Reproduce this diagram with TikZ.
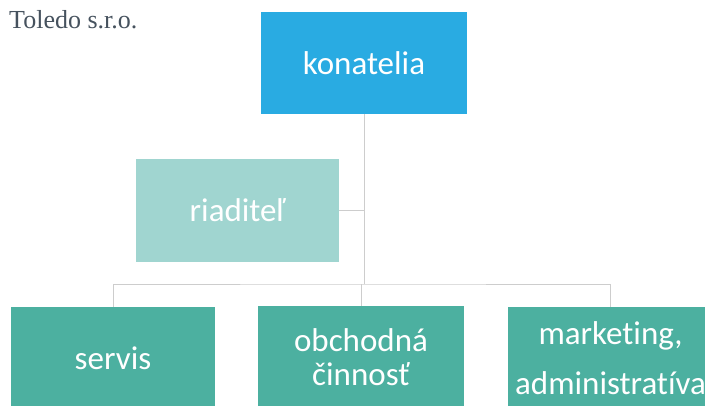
\documentclass[tikz,border=0pt]{standalone}
\usepackage{fontspec}
\setmainfont{Carlito}[Ligatures=NoCommon]
\newfontfamily\titlefont{Liberation Serif}
\definecolor{konblue}{RGB}{41,171,226}
\definecolor{riadteal}{RGB}{160,213,208}
\definecolor{depteal}{RGB}{76,176,160}
\definecolor{linegray}{RGB}{205,205,205}
\definecolor{titlegray}{RGB}{70,82,94}
\begin{document}
\begin{tikzpicture}[x=1pt,y=-1pt,
  orgbox/.style={rectangle, inner sep=0pt, minimum width=205pt, minimum height=103pt,
    text=white, font=\fontsize{33}{34}\selectfont, align=center},
  conn/.style={draw=linegray, line width=0.9pt}]
\useasboundingbox (0,0) rectangle (705,405);
\node[anchor=base west, inner sep=0pt, text=titlegray, font=\titlefont\fontsize{26}{28}\selectfont] (title) at (9,28) {Toledo s.r.o.};
\node[orgbox, fill=konblue, minimum width=206pt, minimum height=102pt] (kon) at (364,63) {konatelia};
\node[orgbox, fill=riadteal, minimum width=203pt] (riad) at (237.5,210.5) {riaditeľ};
\node[orgbox, fill=depteal, minimum width=204pt] (serv) at (113,358.5) {servis};
\node[orgbox, fill=depteal, minimum width=206pt, font=\fontsize{33}{34}\selectfont] (obch) at (361,357.5) {obchodná\\činnosť};
\node[orgbox, fill=depteal, font=\fontsize{33}{50}\selectfont] (mark) at (610.5,358.5) {marketing,\\administratíva};
\coordinate (bar) at (364,284);
\draw[conn] (kon.south) -- (bar);
\draw[conn] (serv.north) |- (bar) -| (mark.north);
\draw[conn] (obch.north) -- (obch.north |- bar);
\draw[conn] (riad.east) -- (riad.east -| kon.south);
\end{tikzpicture}
\end{document}
